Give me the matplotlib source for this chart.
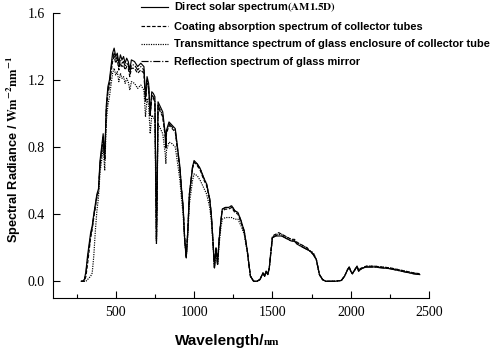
import matplotlib
matplotlib.use("Agg")
import matplotlib.pyplot as plt
from matplotlib.ticker import MultipleLocator

plt.rcParams['mathtext.fontset'] = 'stix'

wavelength = [280, 290, 300, 310, 320, 330, 340, 350, 360, 370, 380, 390, 400, 410, 420, 430, 440, 450, 460, 470,
              480, 490, 500, 510, 520, 530, 540, 550, 560, 570, 580, 590, 600, 620, 640, 660, 680, 690, 700, 710,
              720, 730, 740, 750, 760, 765, 770, 780, 800, 816, 820, 824, 840, 860, 880, 900, 910, 920, 930, 940,
              950, 960, 970, 980, 990, 1000, 1020, 1040, 1060, 1080, 1100, 1110, 1120, 1130, 1140, 1150, 1160, 1170, 1180, 1200,
              1220, 1240, 1260, 1280, 1300, 1320, 1340, 1350, 1360, 1380, 1400, 1420, 1440, 1450, 1460, 1470, 1480, 1490, 1500, 1520,
              1540, 1560, 1580, 1600, 1620, 1640, 1660, 1680, 1700, 1720, 1740, 1760, 1780, 1800, 1820, 1840, 1900, 1940, 1960, 1980,
              1990, 2000, 2010, 2020, 2040, 2050, 2060, 2080, 2100, 2150, 2200, 2250, 2300, 2350, 2400, 2440]

direct = [0.0, 0.0, 0.01, 0.06, 0.15, 0.22, 0.29, 0.33, 0.40, 0.46, 0.52, 0.55, 0.72, 0.80, 0.88, 0.74, 1.05, 1.16, 1.20, 1.28,
          1.36, 1.39, 1.34, 1.36, 1.30, 1.35, 1.32, 1.34, 1.30, 1.33, 1.31, 1.26, 1.32, 1.31, 1.28, 1.30, 1.28, 1.10, 1.22, 1.18,
          1.00, 1.13, 1.12, 1.10, 0.23, 0.60, 1.07, 1.05, 1.01, 0.88, 0.80, 0.90, 0.95, 0.93, 0.91, 0.76, 0.68, 0.55, 0.45, 0.25,
          0.14, 0.30, 0.52, 0.60, 0.68, 0.72, 0.70, 0.67, 0.62, 0.58, 0.49, 0.40, 0.25, 0.08, 0.20, 0.10, 0.25, 0.35, 0.43, 0.44,
          0.44, 0.45, 0.42, 0.41, 0.36, 0.30, 0.18, 0.10, 0.03, 0.0, 0.0, 0.01, 0.05, 0.03, 0.06, 0.04, 0.08, 0.17, 0.26, 0.27,
          0.27, 0.27, 0.26, 0.25, 0.24, 0.24, 0.22, 0.21, 0.20, 0.19, 0.18, 0.16, 0.13, 0.04, 0.01, 0.0, 0.0, 0.005, 0.03, 0.07,
          0.085, 0.06, 0.045, 0.06, 0.09, 0.06, 0.07, 0.08, 0.085, 0.085, 0.08, 0.075, 0.065, 0.055, 0.045, 0.04]

coating = [0.0, 0.0, 0.0, 0.03, 0.10, 0.18, 0.26, 0.31, 0.38, 0.44, 0.50, 0.54, 0.69, 0.77, 0.85, 0.72, 1.01, 1.12, 1.16, 1.24,
           1.31, 1.34, 1.30, 1.32, 1.26, 1.30, 1.28, 1.29, 1.26, 1.28, 1.27, 1.22, 1.27, 1.27, 1.24, 1.26, 1.24, 1.07, 1.18, 1.15,
           0.98, 1.10, 1.09, 1.07, 0.25, 0.60, 1.04, 1.02, 0.98, 0.86, 0.79, 0.88, 0.93, 0.91, 0.89, 0.74, 0.66, 0.54, 0.44, 0.26,
           0.15, 0.30, 0.51, 0.59, 0.67, 0.71, 0.69, 0.66, 0.61, 0.57, 0.48, 0.39, 0.25, 0.09, 0.20, 0.11, 0.25, 0.35, 0.42, 0.43,
           0.43, 0.44, 0.41, 0.40, 0.35, 0.29, 0.18, 0.10, 0.03, 0.0, 0.0, 0.01, 0.05, 0.03, 0.06, 0.04, 0.08, 0.18, 0.27, 0.28,
           0.29, 0.28, 0.27, 0.26, 0.25, 0.25, 0.23, 0.22, 0.21, 0.20, 0.18, 0.17, 0.13, 0.04, 0.01, 0.0, 0.0, 0.005, 0.03, 0.07,
           0.085, 0.06, 0.045, 0.06, 0.09, 0.065, 0.075, 0.085, 0.09, 0.09, 0.085, 0.08, 0.07, 0.06, 0.05, 0.045]

transmittance = [0.0, 0.0, 0.0, 0.0, 0.01, 0.02, 0.03, 0.05, 0.15, 0.30, 0.42, 0.50, 0.65, 0.72, 0.80, 0.66, 0.95, 1.05, 1.10, 1.17,
                 1.24, 1.27, 1.23, 1.25, 1.19, 1.24, 1.21, 1.22, 1.18, 1.21, 1.19, 1.14, 1.19, 1.18, 1.15, 1.17, 1.14, 0.98, 1.09, 1.05,
                 0.88, 0.99, 0.98, 0.96, 0.22, 0.55, 0.94, 0.92, 0.88, 0.76, 0.70, 0.78, 0.83, 0.82, 0.80, 0.67, 0.60, 0.49, 0.40, 0.24,
                 0.14, 0.27, 0.46, 0.53, 0.60, 0.64, 0.63, 0.60, 0.56, 0.52, 0.44, 0.36, 0.23, 0.08, 0.18, 0.10, 0.22, 0.31, 0.37, 0.38,
                 0.38, 0.38, 0.37, 0.37, 0.33, 0.28, 0.17, 0.10, 0.03, 0.0, 0.0, 0.01, 0.05, 0.03, 0.06, 0.04, 0.08, 0.17, 0.26, 0.28,
                 0.28, 0.28, 0.27, 0.26, 0.25, 0.24, 0.23, 0.22, 0.21, 0.20, 0.18, 0.17, 0.13, 0.04, 0.01, 0.0, 0.0, 0.005, 0.03, 0.07,
                 0.08, 0.06, 0.045, 0.06, 0.085, 0.065, 0.07, 0.08, 0.09, 0.09, 0.085, 0.08, 0.07, 0.06, 0.05, 0.045]

reflection = [0.0, 0.0, 0.01, 0.05, 0.13, 0.20, 0.27, 0.32, 0.39, 0.45, 0.51, 0.54, 0.70, 0.78, 0.86, 0.73, 1.03, 1.14, 1.18, 1.26,
              1.33, 1.36, 1.32, 1.34, 1.28, 1.32, 1.30, 1.31, 1.28, 1.30, 1.29, 1.24, 1.29, 1.29, 1.26, 1.28, 1.26, 1.08, 1.20, 1.16,
              0.99, 1.11, 1.10, 1.08, 0.24, 0.60, 1.05, 1.03, 0.99, 0.87, 0.79, 0.89, 0.94, 0.92, 0.90, 0.75, 0.67, 0.55, 0.44, 0.25,
              0.14, 0.30, 0.52, 0.60, 0.68, 0.71, 0.70, 0.67, 0.62, 0.58, 0.49, 0.40, 0.25, 0.08, 0.20, 0.10, 0.25, 0.35, 0.43, 0.44,
              0.44, 0.45, 0.42, 0.41, 0.36, 0.30, 0.18, 0.10, 0.03, 0.0, 0.0, 0.01, 0.05, 0.03, 0.06, 0.04, 0.08, 0.17, 0.26, 0.27,
              0.28, 0.27, 0.26, 0.25, 0.24, 0.24, 0.22, 0.21, 0.20, 0.19, 0.18, 0.16, 0.13, 0.04, 0.01, 0.0, 0.0, 0.005, 0.03, 0.07,
              0.085, 0.06, 0.045, 0.06, 0.09, 0.06, 0.07, 0.08, 0.085, 0.085, 0.08, 0.075, 0.065, 0.055, 0.045, 0.04]

series_labels = [r"Direct solar spectrum$\mathbf{(AM1.5D)}$",
                 "Coating absorption spectrum of collector tubes",
                 "Transmittance spectrum of glass enclosure of collector tube",
                 "Reflection spectrum of glass mirror"]

x_ticks = [500, 1000, 1500, 2000, 2500]
y_ticks = [0.0, 0.4, 0.8, 1.2, 1.6]
y_tick_labels = ["0.0", "0.4", "0.8", "1.2", "1.6"]

fig = plt.figure(figsize=(4.91, 3.49), dpi=100)
ax = fig.add_axes([0.108, 0.146, 0.766, 0.817])

lw = 0.85
l1, = ax.plot(wavelength, direct, color='black', lw=lw, linestyle='-')
l2, = ax.plot(wavelength, coating, color='black', lw=lw, linestyle=(0, (3, 1.5)))
l3, = ax.plot(wavelength, transmittance, color='black', lw=lw, linestyle=(0, (1, 1)))
l4, = ax.plot(wavelength, reflection, color='black', lw=lw, linestyle=(0, (6, 1.5, 1, 1.5)))

ax.set_xlim(100, 2500)
ax.set_ylim(-0.1, 1.6)
ax.spines['top'].set_visible(False)
ax.spines['right'].set_visible(False)
ax.spines['bottom'].set_bounds(100, 2500)
ax.spines['left'].set_bounds(-0.1, 1.6)

ax.set_xticks(x_ticks)
ax.set_xticklabels([str(t) for t in x_ticks])
ax.xaxis.set_minor_locator(MultipleLocator(250))
ax.set_yticks(y_ticks)
ax.set_yticklabels(y_tick_labels)

ax.tick_params(axis='both', which='major', direction='in', length=5, width=0.8, pad=6)
ax.tick_params(axis='both', which='minor', direction='in', length=3, width=0.8)
for lab in ax.get_xticklabels() + ax.get_yticklabels():
    lab.set_fontfamily('Liberation Serif')
    lab.set_fontsize(10)

# x label: bold sans "Wavelength/" followed by small bold serif "nm"
fig.text(264 / 491, 1 - 345 / 349, "Wavelength/", fontsize=11, fontweight='bold',
         fontfamily='Liberation Sans', ha='right', va='baseline')
fig.text(264 / 491, 1 - 345 / 349, "nm", fontsize=8, fontweight='bold',
         fontfamily='Liberation Serif', ha='left', va='baseline')

fig.text(14 / 491, 1 - 149 / 349, r"Spectral Radiance / $\mathbf{Wm^{-2}nm^{-1}}$",
         fontsize=9.2, fontweight='bold', fontfamily='Liberation Sans',
         rotation=90, ha='center', va='center')

leg = fig.legend([l1, l2, l3, l4], series_labels, loc='upper left',
                 bbox_to_anchor=(0.282, 1.005), frameon=False,
                 prop={'family': 'Liberation Sans', 'weight': 'bold', 'size': 7.9},
                 handlelength=2.5, handletextpad=0.55, labelspacing=0.68,
                 borderaxespad=0, borderpad=0.2)

fig.savefig("out.png", dpi=100)
